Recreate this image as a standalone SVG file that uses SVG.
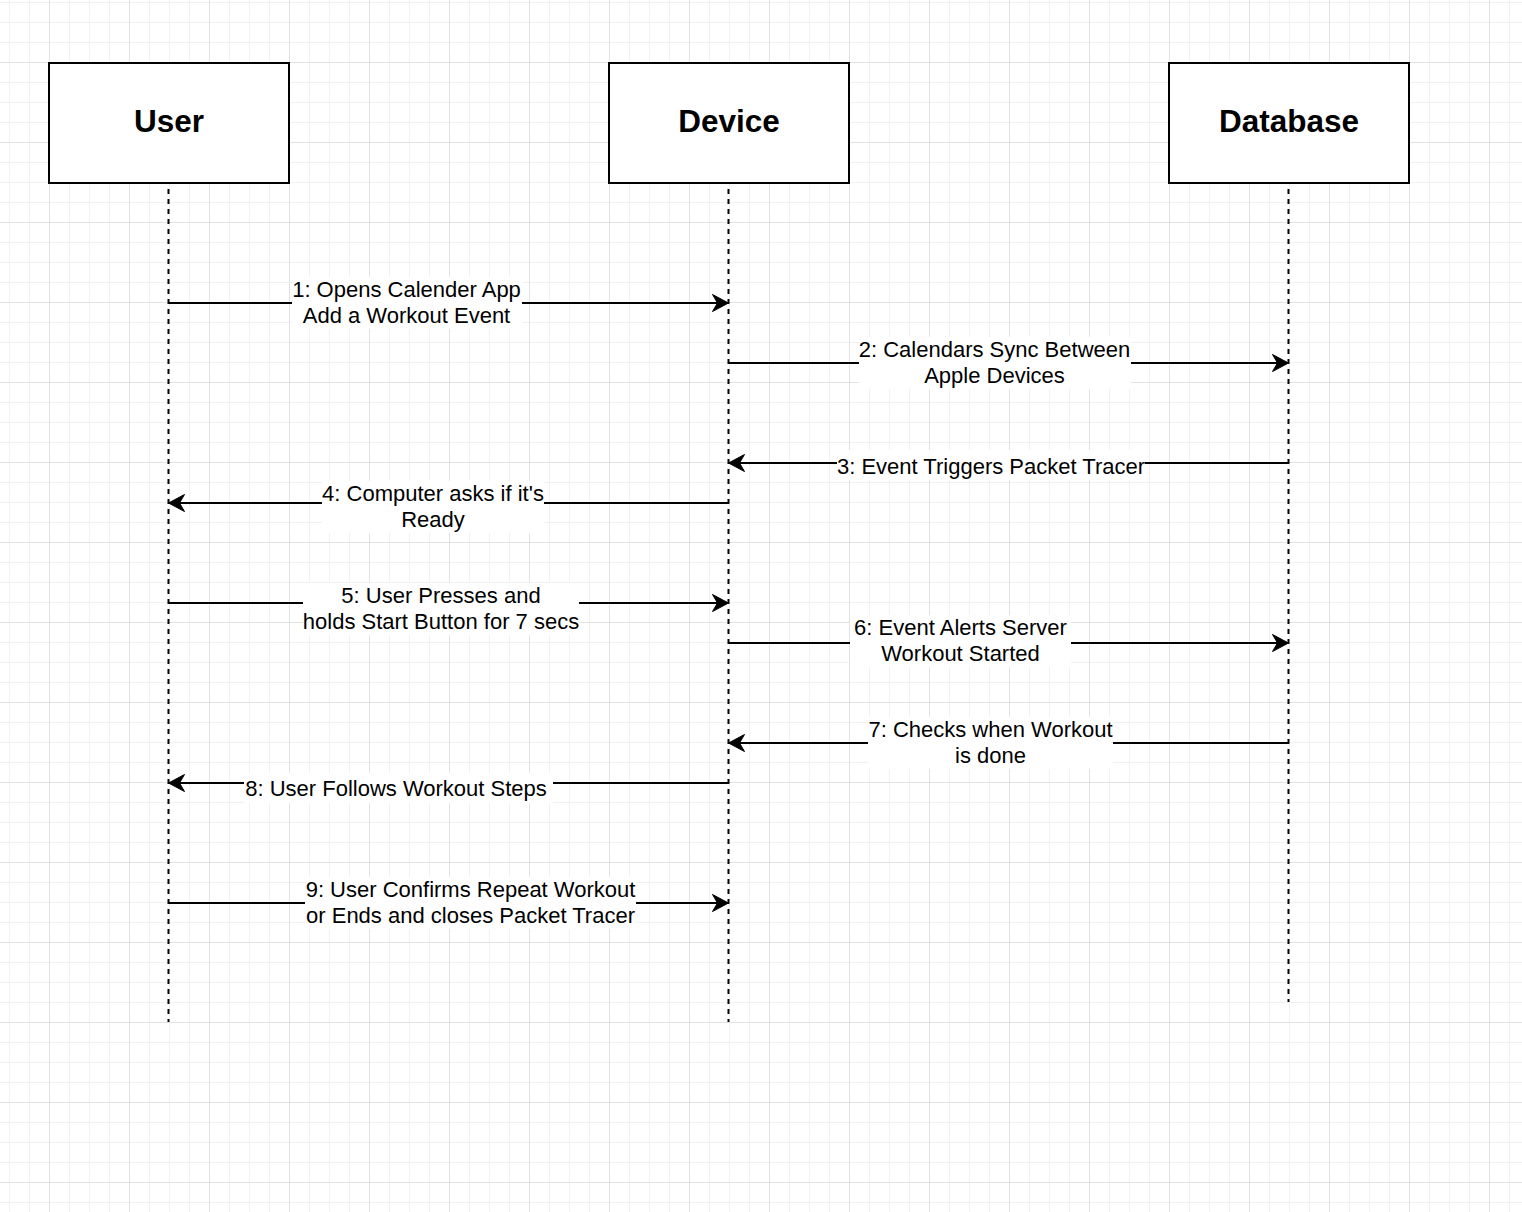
<svg xmlns="http://www.w3.org/2000/svg" width="1522" height="1212" viewBox="0 0 1522 1212">
<defs>
<pattern id="minor" patternUnits="userSpaceOnUse" x="9" y="2" width="20" height="20">
<path d="M0 0.5H20M0.5 0V20" stroke="#f1f1f1" stroke-width="1" fill="none"/>
</pattern>
<pattern id="major" patternUnits="userSpaceOnUse" x="49" y="62" width="80" height="80">
<path d="M0 0.5H80M0.5 0V80" stroke="#e2e2e2" stroke-width="1" fill="none"/>
</pattern>
<marker id="ah" markerUnits="userSpaceOnUse" markerWidth="20" markerHeight="20" refX="8" refY="10" orient="auto" overflow="visible">
<path d="M17 10 L1 1.5 L6 10 L1 18.5 Z" fill="#000" stroke="#000" stroke-width="1" stroke-linejoin="miter"/>
</marker>
</defs>
<style>
.box{fill:#fff;stroke:#000;stroke-width:2}
.title{font-family:"Liberation Sans",Helvetica,Arial,sans-serif;font-size:31.5px;font-weight:bold;text-anchor:middle;fill:#000}
.life{stroke:#000;stroke-width:2;stroke-dasharray:5 5;stroke-dashoffset:5;fill:none}
.msg{stroke:#000;stroke-width:2;fill:none;marker-end:url(#ah)}
.bg{fill:#fff}
.lbl{font-family:"Liberation Sans",Helvetica,Arial,sans-serif;font-size:22px;text-anchor:middle;fill:#000}
</style>
<rect width="1522" height="1212" fill="#fff"/>
<rect width="1522" height="1212" fill="url(#minor)"/>
<rect width="1522" height="1212" fill="url(#major)"/>

<g id="user">
<rect class="box" x="49" y="63" width="240" height="120"/>
<text class="title" x="169" y="132">User</text>
<line class="life" x1="168.5" y1="184" x2="168.5" y2="1022"/>
</g>
<g id="device">
<rect class="box" x="609" y="63" width="240" height="120"/>
<text class="title" x="729" y="132">Device</text>
<line class="life" x1="728.5" y1="184" x2="728.5" y2="1022"/>
</g>
<g id="database">
<rect class="box" x="1169" y="63" width="240" height="120"/>
<text class="title" x="1289" y="132">Database</text>
<line class="life" x1="1288.5" y1="184" x2="1288.5" y2="1002"/>
</g>

<g id="connectors">
<g id="m1">
<line class="msg" x1="168.5" y1="303" x2="719.5" y2="303"/>
<rect class="bg" x="292" y="277" width="230" height="52"/>
<text class="lbl" x="406.5" y="297">1: Opens Calender App</text>
<text class="lbl" x="406.5" y="323">Add a Workout Event</text>
</g>
<g id="m2">
<line class="msg" x1="728.5" y1="363" x2="1279.5" y2="363"/>
<rect class="bg" x="859" y="337" width="272" height="52"/>
<text class="lbl" x="994.5" y="357">2: Calendars Sync Between</text>
<text class="lbl" x="994.5" y="383">Apple Devices</text>
</g>
<g id="m3">
<line class="msg" x1="1288.5" y1="463" x2="737.5" y2="463"/>
<rect class="bg" x="837" y="450" width="308" height="30"/>
<text class="lbl" x="991" y="474">3: Event Triggers Packet Tracer</text>
</g>
<g id="m4">
<line class="msg" x1="728.5" y1="503" x2="177.5" y2="503"/>
<rect class="bg" x="322" y="481" width="222" height="52"/>
<text class="lbl" x="433" y="501">4: Computer asks if it's</text>
<text class="lbl" x="433" y="527">Ready</text>
</g>
<g id="m5">
<line class="msg" x1="168.5" y1="603" x2="719.5" y2="603"/>
<rect class="bg" x="303" y="583" width="276" height="52"/>
<text class="lbl" x="441" y="603">5: User Presses and</text>
<text class="lbl" x="441" y="629">holds Start Button for 7 secs</text>
</g>
<g id="m6">
<line class="msg" x1="728.5" y1="643" x2="1279.5" y2="643"/>
<rect class="bg" x="850" y="615" width="221" height="52"/>
<text class="lbl" x="960.5" y="635">6: Event Alerts Server</text>
<text class="lbl" x="960.5" y="661">Workout Started</text>
</g>
<g id="m7">
<line class="msg" x1="1288.5" y1="743" x2="737.5" y2="743"/>
<rect class="bg" x="868" y="717" width="245" height="52"/>
<text class="lbl" x="990.5" y="737">7: Checks when Workout</text>
<text class="lbl" x="990.5" y="763">is done</text>
</g>
<g id="m8">
<line class="msg" x1="728.5" y1="783" x2="177.5" y2="783"/>
<rect class="bg" x="244" y="773" width="309" height="30"/>
<text class="lbl" x="396" y="796">8: User Follows Workout Steps</text>
</g>
<g id="m9">
<line class="msg" x1="168.5" y1="903" x2="719.5" y2="903"/>
<rect class="bg" x="305" y="877" width="331" height="52"/>
<text class="lbl" x="470.5" y="897">9: User Confirms Repeat Workout</text>
<text class="lbl" x="470.5" y="923">or Ends and closes Packet Tracer</text>
</g>
</g>
</svg>
